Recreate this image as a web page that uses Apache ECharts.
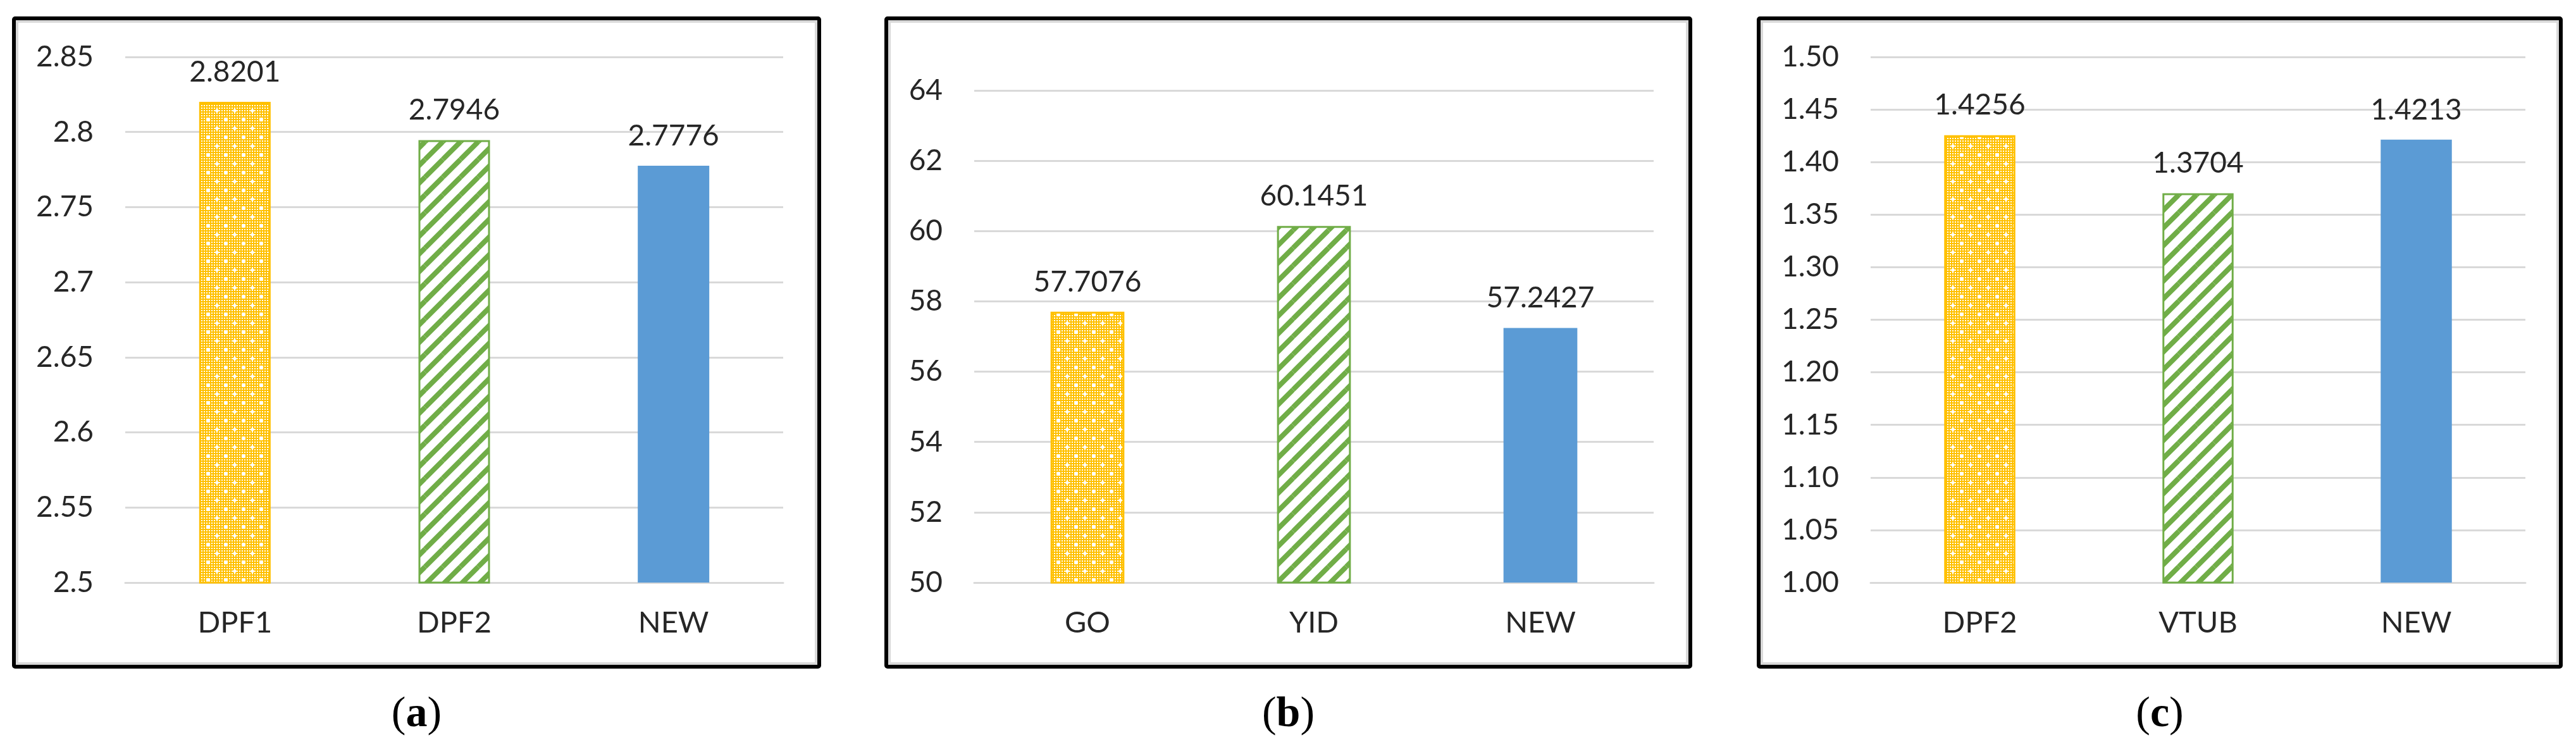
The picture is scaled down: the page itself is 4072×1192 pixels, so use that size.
<!DOCTYPE html>
<html><head><meta charset="utf-8">
<script src="https://cdn.jsdelivr.net/npm/echarts@6/dist/echarts.min.js"></script>
<style>html,body{margin:0;padding:0;background:#fff;} #c{width:4072px;height:1192px;}</style>
</head><body><div id="c"></div>
<script>
// ---- data ----
const catsA = ['DPF1', 'DPF2', 'NEW'];
const valsA = [2.8201, 2.7946, 2.7776];
const ticksA = ['2.5', '2.55', '2.6', '2.65', '2.7', '2.75', '2.8', '2.85'];

const catsB = ['GO', 'YID', 'NEW'];
const valsB = [57.7076, 60.1451, 57.2427];
const ticksB = ['50', '52', '54', '56', '58', '60', '62', '64'];

const catsC = ['DPF2', 'VTUB', 'NEW'];
const valsC = [1.4256, 1.3704, 1.4213];
const ticksC = ['1.00', '1.05', '1.10', '1.15', '1.20', '1.25', '1.30', '1.35', '1.40', '1.45', '1.50'];

const captions = ['a', 'b', 'c'];

// ---- patterns ----
function dotPattern() {
  const S = 28;
  const c = document.createElement('canvas'); c.width = S; c.height = S;
  const g = c.getContext('2d');
  g.fillStyle = '#FFC000'; g.fillRect(0, 0, S, S);
  g.fillStyle = '#ffffff';
  for (let y = 0; y < S; y += 4) for (let x = 0; x < S; x += 4) g.fillRect(x + 2, y + 2, 2, 2);
  function spot(x, y) { g.beginPath(); g.moveTo(x, y - 3.5); g.lineTo(x + 3.5, y); g.lineTo(x, y + 3.5); g.lineTo(x - 3.5, y); g.closePath(); g.fill(); }
  spot(7, 7); spot(21, 21);
  return c;
}
function stripePattern() {
  const W = 28, H = 28;
  const c = document.createElement('canvas'); c.width = W; c.height = H;
  const g = c.getContext('2d');
  g.fillStyle = '#ffffff'; g.fillRect(0, 0, W, H);
  g.strokeStyle = '#70AD47'; g.lineWidth = 8;
  [[0,0],[-W,0],[W,0],[0,-H],[0,H]].forEach(([dx,dy]) => {
    g.beginPath(); g.moveTo(dx, H + dy); g.lineTo(W + dx, dy); g.stroke();
  });
  return c;
}
const barStyles = [
  { color: { image: dotPattern(), repeat: 'repeat' }, borderColor: '#FFC000', borderWidth: 3 },
  { color: { image: stripePattern(), repeat: 'repeat' }, borderColor: '#70AD47', borderWidth: 3 },
  { color: '#5B9BD5', borderWidth: 0 }
];

const panels = [
  { cats: catsA, vals: valsA, ticks: ticksA, grid: { left: 198, top: 90, width: 1040, height: 831 }, frame: [19, 26, 1298, 1057] },
  { cats: catsB, vals: valsB, ticks: ticksB, grid: { left: 1540, top: 143, width: 1074, height: 778 }, frame: [1398, 26, 2675, 1057] },
  { cats: catsC, vals: valsC, ticks: ticksC, grid: { left: 2957, top: 90, width: 1035, height: 831 }, frame: [2777, 26, 4051, 1057] }
];

const FONT = 'Lato, "Open Sans", sans-serif';
const TXT = '#262626';

const option = { animation: false, backgroundColor: '#fff', grid: [], xAxis: [], yAxis: [], series: [], graphic: [] };

panels.forEach((p, i) => {
  const tmin = parseFloat(p.ticks[0]);
  const tmax = parseFloat(p.ticks[p.ticks.length - 1]);
  const step = +(parseFloat(p.ticks[1]) - tmin).toFixed(6);
  option.grid.push(Object.assign({ containLabel: false }, p.grid));
  option.xAxis.push({
    type: 'category', gridIndex: i, data: p.cats,
    axisLine: { show: true, lineStyle: { color: '#d9d9d9', width: 3 } },
    axisTick: { show: false },
    axisLabel: { color: TXT, fontSize: 47, fontFamily: FONT, margin: 40 }
  });
  option.yAxis.push({
    type: 'value', gridIndex: i, min: tmin, max: tmax, interval: step,
    axisLine: { show: false }, axisTick: { show: false },
    splitLine: { show: true, lineStyle: { color: '#d9d9d9', width: 3 } },
    axisLabel: {
      color: TXT, fontSize: 46, fontFamily: FONT, margin: 50,
      formatter: v => p.ticks[Math.round((v - tmin) / step)] ?? ''
    }
  });
  option.series.push({
    type: 'bar', xAxisIndex: i, yAxisIndex: i, barWidth: '32.6%',
    data: p.vals.map((v, k) => ({ value: v, itemStyle: barStyles[k] })),
    label: { show: true, position: 'top', distance: 24, color: TXT, fontSize: 46, fontFamily: FONT,
      formatter: d => String(d.value) }
  });
  const [x0, y0, x1, y1] = p.frame;
  option.graphic.push({
    type: 'rect', silent: true, z: 100,
    shape: { x: x0 + 8, y: y0 + 8, width: x1 - x0 - 16, height: y1 - y0 - 16 },
    style: { fill: 'none', stroke: '#d9d9d9', lineWidth: 4 }
  });
  option.graphic.push({
    type: 'rect', silent: true, z: 101,
    shape: { x: x0 + 3, y: y0 + 3, width: x1 - x0 - 6, height: y1 - y0 - 6, r: 2 },
    style: { fill: 'none', stroke: '#000', lineWidth: 6 }
  });
  option.graphic.push({
    type: 'text', silent: true, z: 101,
    x: (x0 + x1) / 2, y: 1130,
    style: {
      text: '{p|(}{b|' + captions[i] + '}{p|)}',
      align: 'center', verticalAlign: 'middle',
      rich: {
        p: { fontFamily: '"Liberation Serif", serif', fontSize: 68, color: '#000' },
        b: { fontFamily: '"Liberation Serif", serif', fontSize: 68, fontWeight: 'bold', color: '#000' }
      }
    }
  });
});

const chart = echarts.init(document.getElementById('c'), null, { renderer: 'canvas' });
chart.setOption(option);
</script>
</body></html>
